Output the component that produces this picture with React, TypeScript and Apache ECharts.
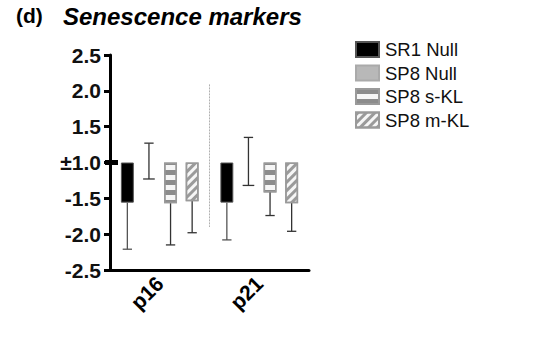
import React, { useEffect, useRef } from 'react';
import * as echarts from 'echarts';

const categories = ['p16', 'p21'];
const seriesNames = ['SR1 Null', 'SP8 Null', 'SP8 s-KL', 'SP8 m-KL'];
// bar means (real units; bars hang from the ±1.0 break)
const sr1NullMean = [-1.56, -1.56];
const sp8NullMean = [-1.23, -1.32];
const sp8sKLMean = [-1.57, -1.42];
const sp8mKLMean = [-1.54, -1.57];
// error bar ends (real units)
const sr1NullErr = [-2.21, -2.08];
const sp8NullErr = [1.27, 1.35];
const sp8sKLErr = [-2.15, -1.74];
const sp8mKLErr = [-1.98, -1.96];
// dotted separator between groups (real units)
const separatorRange = [2.09, -1.9];

const FONT = 'Liberation Sans, Arial, Helvetica, sans-serif';

// broken axis: -2.5..-1.0 and 1.0..2.5 glued at ±1.0
function toAxis(v: number): number {
  if (v <= -1) return v + 1;
  if (v >= 1) return v - 1;
  return 0;
}
function fmtAxis(u: number): string {
  if (Math.abs(u) < 1e-9) return '±1.0';
  const v = u < 0 ? u - 1 : u + 1;
  return v.toFixed(1);
}

const means = [sr1NullMean, sp8NullMean, sp8sKLMean, sp8mKLMean];
const errs = [sr1NullErr, sp8NullErr, sp8sKLErr, sp8mKLErr];

const BAR_W = 0.13;
const BAR_GAP = 0.67;

export default function App() {
  const ref = useRef<HTMLDivElement>(null);
  useEffect(() => {
    if (!ref.current) return;
    const chart = echarts.init(ref.current, null, { renderer: 'svg' });

    const errData: number[][] = [];
    means.forEach((m, s) => {
      m.forEach((v, c) => {
        errData.push([c, toAxis(v), toAxis(errs[s][c]), s]);
      });
    });

    const barStyles: any[] = [
      { color: '#000', borderColor: '#555', borderWidth: 1 },
      { color: '#b8b8b8', borderColor: '#aaa', borderWidth: 1 },
      {
        color: '#f6f6f6', borderColor: '#9a9a9a', borderWidth: 1.5,
        decal: { symbol: 'rect', symbolSize: 1, dashArrayX: [1, 0], dashArrayY: [5, 5], color: '#8c8c8c', rotation: 0 },
      },
      {
        color: '#f6f6f6', borderColor: '#9a9a9a', borderWidth: 1.5,
        decal: { symbol: 'rect', symbolSize: 1, dashArrayX: [1, 0], dashArrayY: [3, 3], color: '#9a9a9a', rotation: -Math.PI / 4 },
      },
    ];

    const barSeries = seriesNames.map((name, s) => ({
      type: 'bar',
      name,
      barWidth: BAR_W * 100 + '%',
      barGap: BAR_GAP * 100 + '%',
      itemStyle: barStyles[s],
      data: means[s].map((v) =>
        s === 1
          ? { value: toAxis(v), itemStyle: { color: 'rgba(0,0,0,0)', borderWidth: 0, decal: 'none' } }
          : toAxis(v)
      ),
    }));

    const option: any = {
      animation: false,
      title: [
        { text: '(d)', left: 16, top: 5, padding: 0, textStyle: { fontFamily: FONT, fontSize: 21, fontWeight: 'bold', color: '#000' } },
        { text: 'Senescence markers', left: 63, top: 4, padding: 0, textStyle: { fontFamily: FONT, fontSize: 24, fontWeight: 'bold', fontStyle: 'italic', color: '#000' } },
      ],
      legend: {
        orient: 'vertical',
        left: 355,
        top: 40,
        padding: 0,
        itemWidth: 23,
        itemHeight: 15,
        itemGap: 4.5,
        icon: 'rect',
        data: seriesNames,
        textStyle: { fontFamily: FONT, fontSize: 18.5, color: '#111', padding: [0, 0, 0, 1] },
      },
      grid: { left: 110, right: 224, top: 55, bottom: 68, containLabel: false },
      xAxis: {
        type: 'category',
        data: categories,
        axisLine: { onZero: false, lineStyle: { color: '#000', width: 3 } },
        axisTick: { alignWithLabel: true, length: 6, lineStyle: { color: '#000', width: 4 } },
        axisLabel: { rotate: 45, fontFamily: FONT, fontSize: 21, fontWeight: 'bold', color: '#000', margin: 10 },
      },
      yAxis: {
        type: 'value',
        min: -1.5,
        max: 1.5,
        interval: 0.5,
        splitLine: { show: false },
        axisLine: { show: true, onZero: false, lineStyle: { color: '#000', width: 3 } },
        axisTick: { show: true, length: 6, lineStyle: { color: '#000', width: 3 } },
        axisLabel: { formatter: fmtAxis, fontFamily: FONT, fontSize: 21, fontWeight: 'bold', color: '#111', margin: 9 },
      },
      series: [
        ...barSeries,
        {
          type: 'custom',
          name: 'errors',
          clip: false,
          z: 5,
          data: errData,
          renderItem: (params: any, api: any) => {
            const c = api.value(0);
            const mean = api.value(1);
            const err = api.value(2);
            const s = api.value(3);
            const band = api.size([1, 0])[0];
            const bw = band * BAR_W;
            const step = bw * (1 + BAR_GAP);
            const center = api.coord([c, 0])[0];
            const x = center + (s - 1.5) * step;
            const y0 = api.coord([c, mean])[1];
            const y1 = api.coord([c, err])[1];
            const cap = bw * 0.72;
            const color = s === 0 ? '#555' : '#333';
            const children: any[] = [
              { type: 'line', shape: { x1: x, y1: y0, x2: x, y2: y1 }, style: { stroke: color, lineWidth: 1.3 } },
              { type: 'line', shape: { x1: x - cap / 2, y1: y1, x2: x + cap / 2, y2: y1 }, style: { stroke: color, lineWidth: 1.3 } },
            ];
            if (s === 1) {
              children.push({ type: 'line', shape: { x1: x - bw * 0.45, y1: y0, x2: x + bw * 0.45, y2: y0 }, style: { stroke: '#333', lineWidth: 1.3 } });
            }
            return { type: 'group', children };
          },
        },
        {
          type: 'custom',
          name: 'separator',
          clip: false,
          z: 1,
          data: [[toAxis(separatorRange[0]), toAxis(separatorRange[1])]],
          renderItem: (params: any, api: any) => {
            const xa = api.coord([0, api.value(0)]);
            const xb = api.coord([1, api.value(0)]);
            const yb = api.coord([1, api.value(1)])[1];
            const x = (xa[0] + xb[0]) / 2;
            const yBreak = api.coord([0, 0])[1];
            const axisX = params.coordSys.x;
            return {
              type: 'group',
              children: [
                { type: 'line', shape: { x1: x, y1: xa[1], x2: x, y2: yb }, style: { stroke: '#b0b0b0', lineWidth: 1, lineDash: [2, 1] } },
                { type: 'rect', shape: { x: axisX - 5, y: yBreak - 2.5, width: 13, height: 5 }, style: { fill: '#000' } },
              ],
            };
          },
        },
      ],
    };
    chart.setOption(option);
    return () => chart.dispose();
  }, []);
  return <div ref={ref} style={{ position: 'fixed', left: 0, top: 0, width: 533, height: 338, background: '#fff' }} />;
}
